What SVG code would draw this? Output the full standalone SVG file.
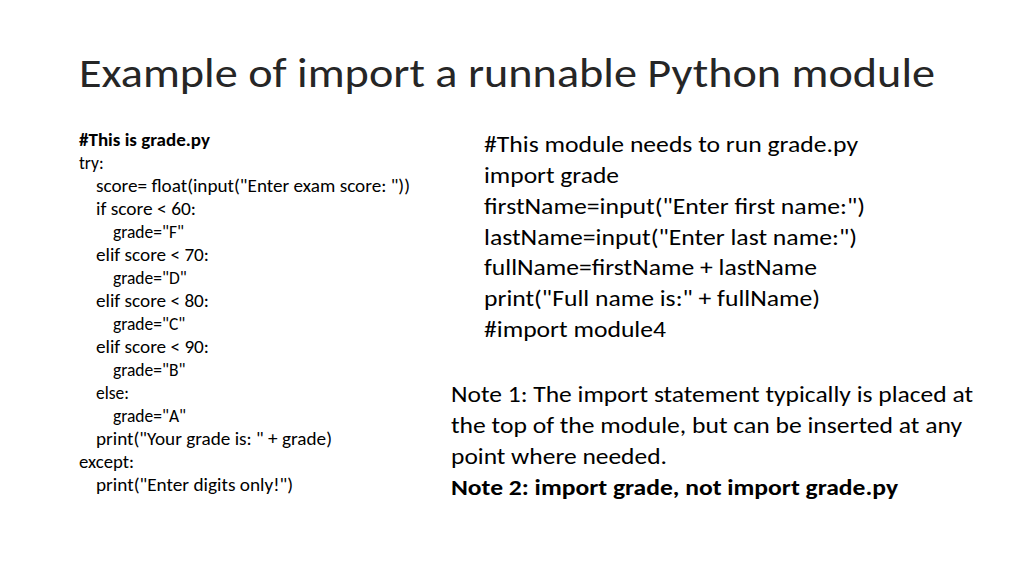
<svg xmlns="http://www.w3.org/2000/svg" width="1024" height="576" viewBox="0 0 1024 576">
<style>
text{font-family:Carlito,Lato,"Open Sans",sans-serif;fill:#000}
.t{font-size:40px;fill:#262626}
.c{font-size:17.5px}
.r{font-size:23px}
.b{font-weight:bold}
</style>
<rect width="1024" height="576" fill="#fff"/>
<text class="t" x="79" y="87" textLength="856" lengthAdjust="spacingAndGlyphs">Example of import a runnable Python module</text>
<g id="left">
<text class="c b" x="79" y="146" textLength="131" lengthAdjust="spacingAndGlyphs">#This is grade.py</text>
<text class="c" x="79" y="169">try:</text>
<text class="c" x="96" y="192" textLength="314" lengthAdjust="spacingAndGlyphs">score= float(input("Enter exam score: "))</text>
<text class="c" x="96" y="215" textLength="100" lengthAdjust="spacingAndGlyphs">if score &lt; 60:</text>
<text class="c" x="113" y="238">grade="F"</text>
<text class="c" x="96" y="261" textLength="113" lengthAdjust="spacingAndGlyphs">elif score &lt; 70:</text>
<text class="c" x="113" y="284">grade="D"</text>
<text class="c" x="96" y="307" textLength="113" lengthAdjust="spacingAndGlyphs">elif score &lt; 80:</text>
<text class="c" x="113" y="330">grade="C"</text>
<text class="c" x="96" y="353" textLength="113" lengthAdjust="spacingAndGlyphs">elif score &lt; 90:</text>
<text class="c" x="113" y="376">grade="B"</text>
<text class="c" x="96" y="399">else:</text>
<text class="c" x="113" y="422">grade="A"</text>
<text class="c" x="96" y="445" textLength="236" lengthAdjust="spacingAndGlyphs">print("Your grade is: " + grade)</text>
<text class="c" x="79" y="468" textLength="55" lengthAdjust="spacingAndGlyphs">except:</text>
<text class="c" x="96" y="491" textLength="197" lengthAdjust="spacingAndGlyphs">print("Enter digits only!")</text>
</g>
<g id="right">
<text class="r" x="484" y="152" textLength="374" lengthAdjust="spacingAndGlyphs">#This module needs to run grade.py</text>
<text class="r" x="484" y="183" textLength="135" lengthAdjust="spacingAndGlyphs">import grade</text>
<text class="r" x="484" y="214" textLength="381" lengthAdjust="spacingAndGlyphs">firstName=input("Enter first name:")</text>
<text class="r" x="484" y="245" textLength="373" lengthAdjust="spacingAndGlyphs">lastName=input("Enter last name:")</text>
<text class="r" x="484" y="275" textLength="333" lengthAdjust="spacingAndGlyphs">fullName=firstName + lastName</text>
<text class="r" x="484" y="306" textLength="336" lengthAdjust="spacingAndGlyphs">print("Full name is:" + fullName)</text>
<text class="r" x="484" y="337" textLength="182" lengthAdjust="spacingAndGlyphs">#import module4</text>
</g>
<g id="notes">
<text class="r" x="451" y="402" textLength="522" lengthAdjust="spacingAndGlyphs">Note 1: The import statement typically is placed at</text>
<text class="r" x="451" y="433" textLength="511" lengthAdjust="spacingAndGlyphs">the top of the module, but can be inserted at any</text>
<text class="r" x="451" y="464" textLength="216" lengthAdjust="spacingAndGlyphs">point where needed.</text>
<text class="r b" x="451" y="495" textLength="447" lengthAdjust="spacingAndGlyphs">Note 2: import grade, not import grade.py</text>
</g>
</svg>
